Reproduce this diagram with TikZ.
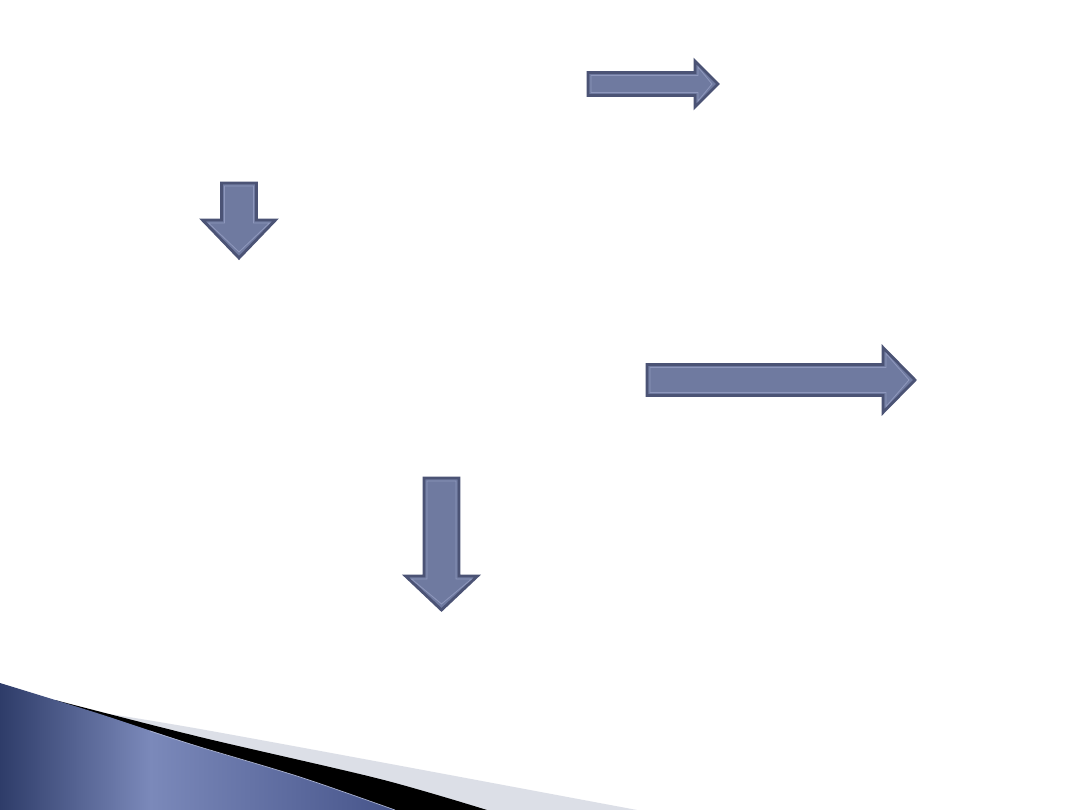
\documentclass[tikz,border=0pt]{standalone}
\definecolor{arrowfill}{HTML}{6F7AA0}
\definecolor{arrowedge}{HTML}{4B5375}
\definecolor{arrowinner}{HTML}{8E97BC}
\definecolor{swooshdark}{HTML}{2E3C69}
\definecolor{swooshlight}{HTML}{7B89BA}
\definecolor{swooshright}{HTML}{46548A}
\definecolor{swooshedge}{HTML}{A9B1CE}
\definecolor{swooshgray}{HTML}{DCDFE7}
\pgfdeclarehorizontalshading{swoosh}{100bp}{color(0bp)=(swooshdark); color(25bp)=(swooshdark);
  color(44bp)=(swooshlight); color(75bp)=(swooshright); color(100bp)=(swooshright)}
\tikzset{
  pics/block arrow/.style n args={4}{
    code = {
        \filldraw [fill=arrowfill, draw=arrowedge, line width=2pt, line join=miter]
          (0,-#2) -- ({#1-#3},-#2) -- ({#1-#3},-#4) -- (#1,0)
          -- ({#1-#3},#4) -- ({#1-#3},#2) -- (0,#2) -- cycle;
        \draw [arrowinner, line width=0.6pt, line join=miter]
          (3,{-#2+3}) -- ({#1-#3+3},{-#2+3}) -- ({#1-#3+3},{-#4+6}) -- ({#1-6},0)
          -- ({#1-#3+3},{#4-6}) -- ({#1-#3+3},{#2-3}) -- (3,{#2-3}) -- cycle;
    }
  }
}

\begin{document}
\begin{tikzpicture}[x=0.025cm, y=-0.025cm]
            \useasboundingbox (0,0) rectangle (1080,810);
            \fill [white] (0,0) rectangle (1080,810);

            % arrows
            \pic at (588,84) {block arrow={130}{11.5}{23}{23}};
            \pic [rotate=-90] at (239,183) {block arrow={75}{17.5}{38}{36.5}};
            \pic at (647,380) {block arrow={268}{15.5}{32}{32.5}};
            \pic [rotate=-90] at (441.5,478) {block arrow={132}{17.5}{34}{36}};

            % swoosh in the corner
            \fill [swooshgray] plot [smooth] coordinates {(110,714) (200,729) (380,762) (637,810)}
              -- (0,810) -- cycle;
            \fill [black] plot [smooth] coordinates {(55,700) (200,737) (380,779) (487,810)}
              -- (0,810) -- cycle;
            \shade [shading=swoosh] plot [smooth] coordinates {(0,683) (100,714) (200,747) (300,777) (395,810)}
              -- (0,810) -- cycle;
            \draw [swooshedge, line width=0.5pt] plot [smooth] coordinates {(150,731) (200,747) (300,777) (395,810)};
        \end{tikzpicture}
\end{document}
